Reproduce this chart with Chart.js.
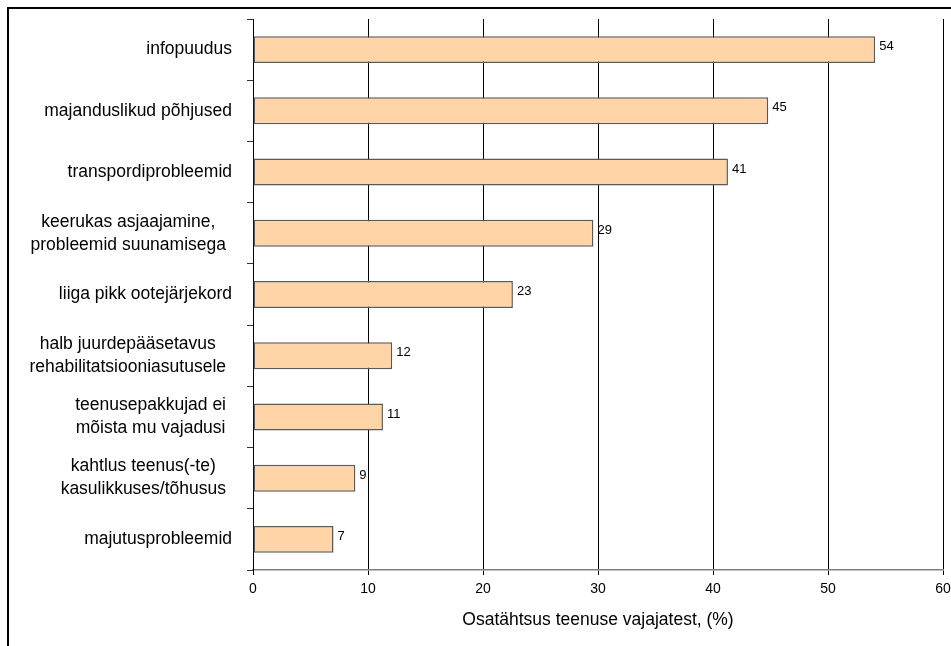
<!DOCTYPE html>
<html>
<head>
<meta charset="utf-8">
<script src="https://cdn.jsdelivr.net/npm/chart.js@4/dist/chart.umd.min.js"></script>
<style>
  html, body { margin: 0; padding: 0; background: #fff; overflow: hidden; }
  #wrap { position: relative; width: 951px; height: 646px; overflow: hidden; }
  #frame {
    position: absolute; left: 7px; top: 7px; width: 1000px; height: 1000px;
    border: 2px solid #000; box-sizing: border-box;
  }
  #chart { position: absolute; left: 0; top: 0; }
</style>
</head>
<body>
<div id="wrap">
  <div id="frame"></div>
  <canvas id="chart" width="951" height="646"></canvas>
</div>
<script>
// ========== DATA ==========
const categories = [
  ["infopuudus"],
  ["majanduslikud põhjused"],
  ["transpordiprobleemid"],
  ["keerukas asjaajamine,", "probleemid suunamisega"],
  ["liiga pikk ootejärjekord"],
  ["halb juurdepääsetavus", "rehabilitatsiooniasutusele"],
  ["teenusepakkujad ei", "mõista mu vajadusi"],
  ["kahtlus teenus(-te)", "kasulikkuses/tõhusus"],
  ["majutusprobleemid"],
];
const shares = [54.1, 44.8, 41.3, 29.6, 22.6, 12.1, 11.3, 8.9, 7.0];
const shareLabels = ["54", "45", "41", "29", "23", "12", "11", "9", "7"];
const xTicks = [0, 10, 20, 30, 40, 50, 60];
const axisTitle = "Osatähtsus teenuse vajajatest, (%)";

// ========== CHART ==========
const FONT = "'Liberation Sans', Arial, sans-serif";
const LABEL_SIZE = 17.5;
const LABEL_LINE = 23;
Chart.defaults.font.family = FONT;
Chart.defaults.color = "#000";

// value labels at the end of each bar
const valueLabels = {
  id: "valueLabels",
  afterDatasetsDraw(chart) {
    const { ctx } = chart;
    const meta = chart.getDatasetMeta(0);
    ctx.save();
    ctx.font = "13px " + FONT;
    ctx.fillStyle = "#000";
    ctx.textAlign = "left";
    ctx.textBaseline = "middle";
    meta.data.forEach((bar, i) => {
      ctx.fillText(shareLabels[i], bar.x + 4, bar.y - 3);
    });
    ctx.restore();
  },
};

// category labels: block right aligned, lines centred inside the block
const categoryLabels = {
  id: "categoryLabels",
  afterDraw(chart) {
    const { ctx } = chart;
    const yScale = chart.scales.y;
    ctx.save();
    ctx.font = LABEL_SIZE + "px " + FONT;
    ctx.fillStyle = "#000";
    ctx.textAlign = "center";
    ctx.textBaseline = "middle";
    categories.forEach((lines, i) => {
      const y = yScale.getPixelForTick(i);
      const widest = Math.max(...lines.map((t) => ctx.measureText(t).width));
      const right = lines.length > 1 ? yScale.right - 27 : yScale.right - 21;
      const cx = right - widest / 2;
      const top = y - ((lines.length - 1) * LABEL_LINE) / 2;
      lines.forEach((t, k) => ctx.fillText(t, cx, top + k * LABEL_LINE));
    });
    ctx.restore();
  },
};

new Chart(document.getElementById("chart"), {
  type: "bar",
  data: {
    labels: categories,
    datasets: [
      {
        data: shares,
        backgroundColor: "#FFD5A8",
        borderColor: "#5a5a5a",
        borderWidth: 1.5,
        borderSkipped: false,
        barPercentage: 0.44,
        categoryPercentage: 1,
      },
    ],
  },
  options: {
    indexAxis: "y",
    responsive: false,
    animation: false,
    devicePixelRatio: 1,
    layout: { padding: { top: 19, right: 8, left: 0, bottom: 0 } },
    plugins: { legend: { display: false }, tooltip: { enabled: false } },
    scales: {
      x: {
        min: 0,
        max: 60,
        afterBuildTicks: (scale) => {
          scale.ticks = xTicks.map((v) => ({ value: v }));
        },
        afterFit: (scale) => {
          scale.height = 76;
          scale.paddingLeft = 0;
          scale.paddingRight = 0;
        },
        grid: { color: "#000", lineWidth: 1, tickLength: 5, drawTicks: true },
        border: { color: "#808080", width: 1.5 },
        ticks: { font: { size: 14 }, padding: 6, color: "#000" },
        title: {
          display: true,
          text: axisTitle,
          font: { size: 17.5 },
          padding: { top: 4, bottom: 15 },
          color: "#000",
        },
      },
      y: {
        afterFit: (scale) => {
          scale.width = 253;
          scale.paddingTop = 0;
          scale.paddingBottom = 0;
        },
        grid: {
          drawOnChartArea: false,
          offset: true,
          tickLength: 6,
          color: "#333",
        },
        border: { color: "#000", width: 1 },
        ticks: {
          font: { size: LABEL_SIZE, lineHeight: LABEL_LINE / LABEL_SIZE },
          padding: 15,
          color: "rgba(0,0,0,0)",
        },
      },
    },
  },
  plugins: [valueLabels, categoryLabels],
});
</script>
</body>
</html>
